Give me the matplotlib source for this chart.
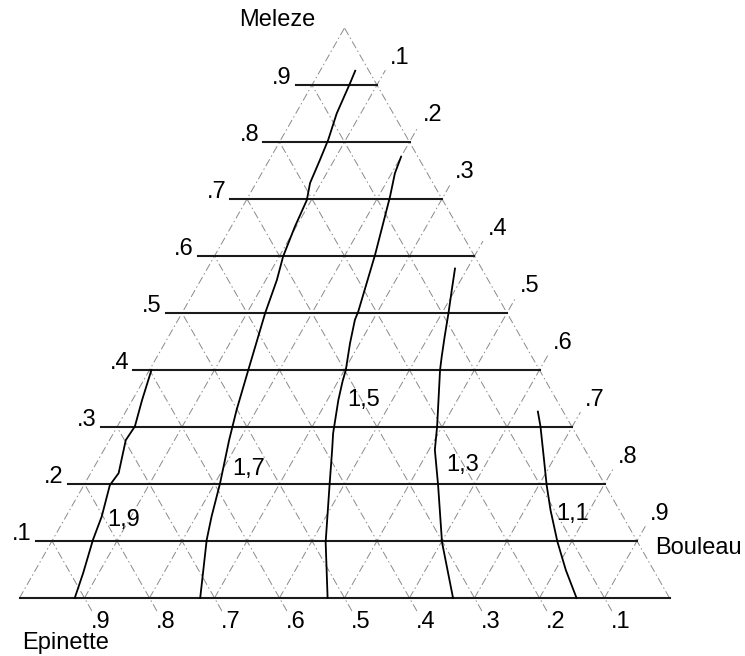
import matplotlib.pyplot as plt
import numpy as np

plt.rcParams['font.family'] = ['Liberation Sans', 'DejaVu Sans']

# ternary levels (fractions) and their tick labels
levels = [0.1, 0.2, 0.3, 0.4, 0.5, 0.6, 0.7, 0.8, 0.9]
level_labels = ['.1', '.2', '.3', '.4', '.5', '.6', '.7', '.8', '.9']

# iso-lines, given as (Meleze, Bouleau) fractions; Epinette = 1 - M - B
iso_names = ['1,9', '1,7', '1,5', '1,3', '1,1']
iso19_m = [0.400, 0.347, 0.301, 0.277, 0.219, 0.198, 0.143, 0.102, 0.044, 0.0]
iso19_b = [0.003, 0.015, 0.027, 0.025, 0.043, 0.040, 0.055, 0.062, 0.076, 0.085]
iso17_m = [0.925, 0.903, 0.850, 0.804, 0.768, 0.728, 0.698, 0.651, 0.599, 0.558,
           0.500, 0.400, 0.330, 0.277, 0.201, 0.143, 0.102, 0.0]
iso17_b = [0.054, 0.057, 0.063, 0.073, 0.078, 0.083, 0.093, 0.098, 0.106, 0.117,
           0.128, 0.152, 0.169, 0.184, 0.208, 0.224, 0.237, 0.278]
iso15_m = [0.774, 0.745, 0.704, 0.602, 0.502, 0.488, 0.447, 0.400, 0.380, 0.347,
           0.289, 0.260, 0.198, 0.098, 0.0]
iso15_b = [0.200, 0.205, 0.218, 0.246, 0.270, 0.272, 0.285, 0.302, 0.307, 0.317,
           0.338, 0.351, 0.378, 0.422, 0.474]
iso13_m = [0.578, 0.540, 0.500, 0.458, 0.423, 0.400, 0.301, 0.260, 0.198, 0.098, 0.0]
iso13_b = [0.381, 0.395, 0.410, 0.425, 0.438, 0.447, 0.492, 0.509, 0.545, 0.601, 0.667]
iso11_m = [0.327, 0.301, 0.242, 0.198, 0.154, 0.099, 0.049, 0.0]
iso11_b = [0.634, 0.651, 0.686, 0.712, 0.740, 0.778, 0.816, 0.857]
# label anchor for each iso-line (Meleze, Bouleau)
iso_lab_m = [0.137, 0.226, 0.347, 0.233, 0.147]
iso_lab_b = [0.091, 0.239, 0.356, 0.566, 0.778]

W, H = 650.0, 570.0   # triangle size in pixels
FS = 17


def to_xy(m, b):
    m = np.asarray(m, float)
    b = np.asarray(b, float)
    return b + m / 2, m


fig = plt.figure(figsize=(7.45, 6.56), dpi=100)
ax = fig.add_axes([19.5 / 745, (656 - 598) / 656, W / 745, H / 656])
ax.set_xlim(0, 1)
ax.set_ylim(0, 1)
ax.axis('off')

grid_kw = dict(color='#8a8a8a', lw=0.7, linestyle=(0, (8, 3, 1.5, 3)), zorder=1)
up = np.array([8.4 / W, 14.8 / H])      # 17 px along the left edge direction
down = np.array([7.4 / W, -13.0 / H])   # 15 px along the right edge direction

# triangle sides
x, y = to_xy([0, 1], [0, 0])
ax.plot(x, y, **grid_kw)
x, y = to_xy([0, 1], [1, 0])
ax.plot(x, y, **grid_kw)

# Bouleau lines (parallel to the left side), run past the right side
for b in levels:
    x, y = to_xy([0, 1 - b], [b, b])
    ax.plot([x[0], x[1] + up[0]], [y[0], y[1] + up[1]], **grid_kw)

# Epinette lines (parallel to the right side), run below the base
for e in levels:
    x, y = to_xy([0, 1 - e], [1 - e, 0])
    ax.plot([x[0] + down[0], x[1]], [y[0] + down[1], y[1]], **grid_kw)

# Meleze levels: solid horizontal lines
ax.plot([0, 1], [0, 0], color='#1a1a1a', lw=1.5, zorder=2)
for m, lab in zip(levels, level_labels):
    x0 = m / 2 - 16.5 / W
    x1 = 1 - m / 2
    ax.plot([x0, x1], [m, m], color='#1a1a1a', lw=1.5, zorder=2)
    ax.text(x0 - 4 / W, m + 1 / H, lab, ha='right', va='baseline', fontsize=FS)

# Bouleau tick labels along the right side
for b, lab in zip(levels, level_labels):
    x, y = to_xy(1 - b, b)
    ax.text(x + 23 / W, y + 27 / H, lab, ha='center', va='center', fontsize=FS)

# Epinette tick labels under the base
for e, lab in zip(levels, level_labels):
    x, y = to_xy(0, 1 - e)
    ax.text(x + 16 / W, y - 24 / H, lab, ha='center', va='center', fontsize=FS)

# corner names
ax.text((277 - 19.5) / W, (598 - 20) / H, 'Meleze', ha='center', va='center', fontsize=FS)
ax.text((742 - 19.5) / W, (598 - 548) / H, 'Bouleau', ha='right', va='center', fontsize=FS)
ax.text((66 - 19.5) / W, (598 - 643) / H, 'Epinette', ha='center', va='center', fontsize=FS)

# iso-lines
iso_m = [iso19_m, iso17_m, iso15_m, iso13_m, iso11_m]
iso_b = [iso19_b, iso17_b, iso15_b, iso13_b, iso11_b]
for ms, bs in zip(iso_m, iso_b):
    x, y = to_xy(ms, bs)
    ax.plot(x, y, color='black', lw=1.3, zorder=3)
for name, m, b in zip(iso_names, iso_lab_m, iso_lab_b):
    x, y = to_xy(m, b)
    ax.text(x, y, name, ha='center', va='center', fontsize=FS, zorder=4)

for t in ax.texts:
    t.set_clip_on(False)
for ln in ax.lines:
    ln.set_clip_on(False)

fig.savefig('out.png', dpi=100)
